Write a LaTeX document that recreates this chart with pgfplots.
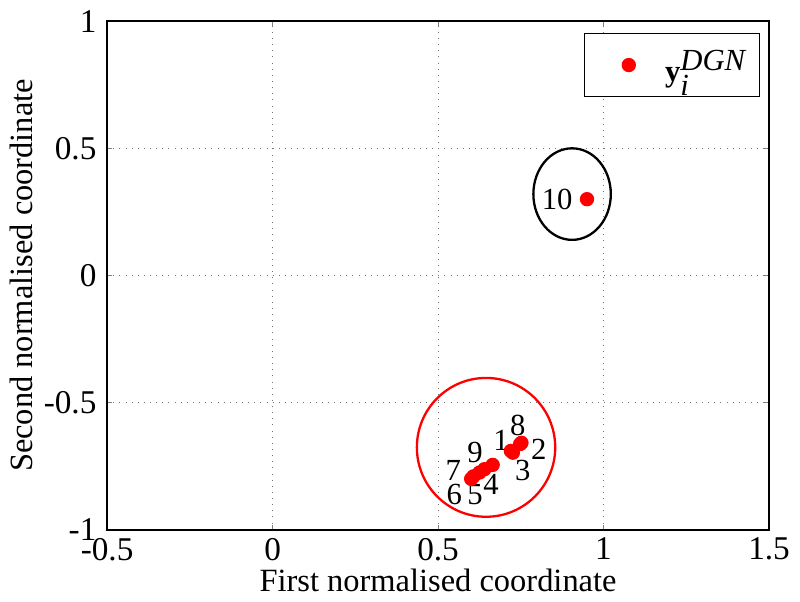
\documentclass[border=0pt]{standalone}
\usepackage{pgfplots}
\pgfplotsset{compat=1.18}
\usepackage{fontspec}
\setmainfont{Liberation Serif}
\begin{document}
\fontsize{12pt}{14pt}\selectfont
\begin{tikzpicture}
\begin{axis}[
    scale only axis,
    width=259pt, height=199pt,
    xmin=-0.5, xmax=1.5, ymin=-1, ymax=1,
    xtick={-0.5,0,0.5,1,1.5},
    ytick={-1,-0.5,0,0.5,1},
    xticklabels={-0.5,0,0.5,1,1.5},
    yticklabels={-1,-0.5,0,0.5,1},
    grid=major, grid style={draw=black!55, dotted, line width=0.3pt},
    axis line style={line width=0.6pt},
    tick align=inside, tick pos=both,
    major tick length=2pt,
    tick label style={font=\fontsize{13pt}{15pt}\selectfont},
    xticklabel style={yshift=1pt},
    xlabel={First normalised coordinate},
    ylabel={Second normalised coordinate},
    label style={font=\fontsize{12.7pt}{15pt}\selectfont},
    xlabel style={yshift=5pt},
    ylabel style={yshift=-4pt},
    legend style={at={(0.986,0.977)}, anchor=north east, draw=black,
        font=\fontsize{12pt}{15pt}\selectfont, inner xsep=3pt, inner ysep=2pt,
        cells={anchor=west}},
    legend image code/.code={\path (0pt,0pt) (26pt,0pt);
        \fill[#1] (14pt,0pt) circle (2.6pt);},
    legend cell align=left,
]
\addplot[only marks, mark=*, mark size=2.6pt, color=red]
  coordinates {
    (0.720,-0.690) (0.748,-0.663) (0.726,-0.697) (0.665,-0.745)
    (0.625,-0.775) (0.600,-0.800) (0.607,-0.790) (0.752,-0.658)
    (0.640,-0.762) (0.950,0.300)
  };
\addlegendentry{\textbf{y}\rule[-9pt]{0pt}{24pt}$_{\textit{i}}^{\textit{DGN}}$}
\node at (axis cs:0.860,0.297) {10};
\node at (axis cs:0.741,-0.590) {8};
\node at (axis cs:0.690,-0.648) {1};
\node at (axis cs:0.804,-0.684) {2};
\node at (axis cs:0.756,-0.766) {3};
\node at (axis cs:0.612,-0.695) {9};
\node at (axis cs:0.546,-0.766) {7};
\node at (axis cs:0.549,-0.863) {6};
\node at (axis cs:0.612,-0.863) {5};
\node at (axis cs:0.660,-0.820) {4};
\draw[red, line width=0.9pt] (axis cs:0.645,-0.676) ellipse [x radius=0.209, y radius=0.273];
\draw[black, line width=0.9pt] (axis cs:0.905,0.320) ellipse [x radius=0.117, y radius=0.180];
\end{axis}
\end{tikzpicture}
\end{document}
